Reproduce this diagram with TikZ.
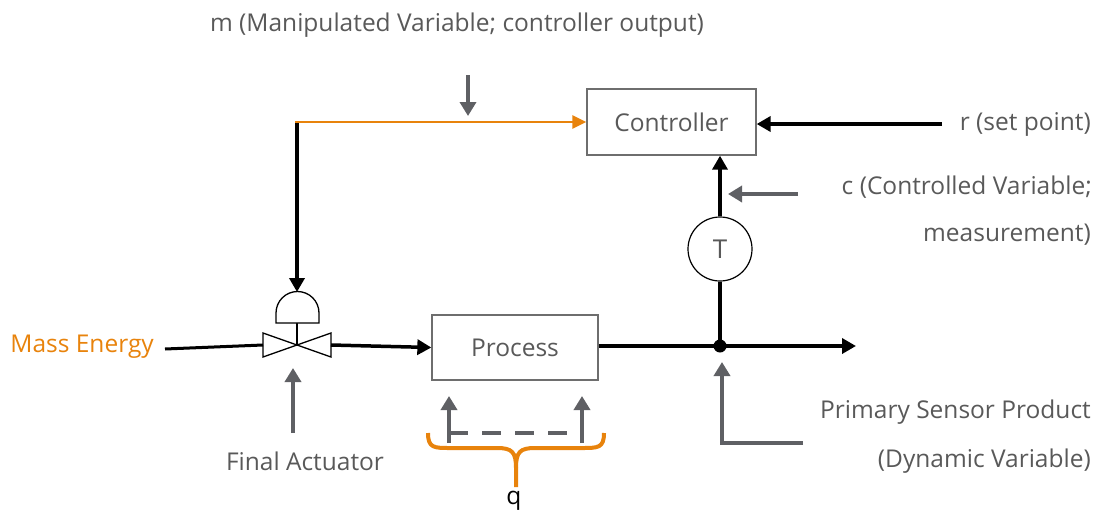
\documentclass[tikz,border=0pt]{standalone}
\usepackage{fontspec}
\setmainfont{Open Sans}
\usetikzlibrary{arrows.meta}
\definecolor{orng}{RGB}{232,131,12}
\definecolor{txtg}{RGB}{89,89,89}
\definecolor{arrg}{RGB}{95,96,100}
\definecolor{boxg}{RGB}{110,110,110}
\tikzset{
  lbl/.style={text=txtg,font=\fontsize{24.5}{28}\selectfont,inner sep=0pt},
  blockbox/.style={draw=boxg,line width=1.3pt,fill=white,font=\fontsize{24.5}{28}\selectfont,text=txtg},
  blk/.style={draw=black,line width=3.5pt},
  blkarr/.style={blk,-{Triangle[length=14pt,width=15pt]}},
  gry/.style={draw=arrg,line width=4pt},
  gryarr/.style={gry,-{Triangle[length=14pt,width=16pt]}},
}
\begin{document}
\begin{tikzpicture}[x=1pt,y=-1pt]
\useasboundingbox (0,0) rectangle (1098,517);
% blocks
\node[blockbox,minimum width=169pt,minimum height=66pt] (ctrl) at (671.5,122) {Controller};
\node[blockbox,minimum width=166pt,minimum height=65pt] (proc) at (515,347.5) {Process};
\node[draw=black,line width=1.2pt,circle,minimum size=64pt,inner sep=0pt,font=\fontsize{26}{28}\selectfont,text=txtg] (T) at (720,249) {T};
% labels
\node[lbl] (mlbl) at (457,25) {m (Manipulated Variable; controller output)};
\node[lbl,text=orng,anchor=east] (mass) at (154,347) {Mass Energy};
\node[lbl] (fa) at (305,461) {Final Actuator};
\node[lbl,text=black] (q) at (514,501) {q};
\node[lbl,anchor=east] (psp) at (1091,412) {Primary Sensor Product};
\node[lbl,anchor=east] (dv) at (1091,461) {(Dynamic Variable)};
\node[lbl,anchor=east] (r) at (1091,124) {r (set point)};
\node[lbl,anchor=east] (c1) at (1092,187) {c (Controlled Variable;};
\node[lbl,anchor=east] (c2) at (1091,235) {measurement)};
% coordinates
\coordinate (vc) at (297,345);
\coordinate (vl) at (263,345);
\coordinate (vr) at (331,345);
\coordinate (corner) at (297,122);
\coordinate (acttop) at (297,292);
\coordinate (junc) at (720,346);
\coordinate (outend) at (856,346);
\coordinate (rstart) at (942,124);
\coordinate (mstart) at (165,349);
% valve
\draw[black,line width=1.3pt,fill=white] (263,333) -- (263,357) -- (vc) -- cycle;
\draw[black,line width=1.3pt,fill=white] (331,333) -- (331,357) -- (vc) -- cycle;
\draw[black,line width=1.3pt] (vc) -- (297,323);
\draw[black,line width=1.3pt,fill=white] (276,323) -- (276,313) arc[start angle=180,end angle=360,radius=21.5] -- (319,323) -- cycle;
% connectors
\draw[black,line width=3pt] (mstart) -- (vl);
\draw[blkarr] (vr) -- (proc.west);
\draw[blkarr] (proc.east |- junc) -- (outend);
\fill (junc) circle[radius=6.5];
\draw[blk] (junc) -- (T.south);
\draw[blkarr] (T.north) -- (ctrl.south -| T.north);
\draw[blkarr] (rstart) -- (ctrl.east |- rstart);
\draw[blkarr] (corner) -- (acttop);
\draw[draw=orng,line width=2.8pt,-{Triangle[length=14pt,width=13pt]}] ([xshift=-1.7pt]corner) -- (ctrl.west |- corner);
% gray pointer arrows
\draw[gryarr] (468,75) -- (468,116);
\draw[gryarr] (798,194) -- (728,194);
\draw[gryarr] (803,443) -- (722,443) -- (722,362);
\draw[gryarr] (293,433) -- (293,368);
\draw[gryarr] (449,443) -- (449,396);
\draw[gryarr] (582,443) -- (582,396);
\draw[gry,dash pattern=on 19pt off 14pt] (449,433) -- (582,433);
% brace
\draw[orng,line width=4pt] (428,433) .. controls (428,448) and (434,448) .. (450,448) -- (497,448) .. controls (512,448) and (516,452) .. (516,468) -- (516,487);
\draw[orng,line width=4pt] (604,433) .. controls (604,448) and (598,448) .. (582,448) -- (535,448) .. controls (520,448) and (516,452) .. (516,468);
\end{tikzpicture}
\end{document}
